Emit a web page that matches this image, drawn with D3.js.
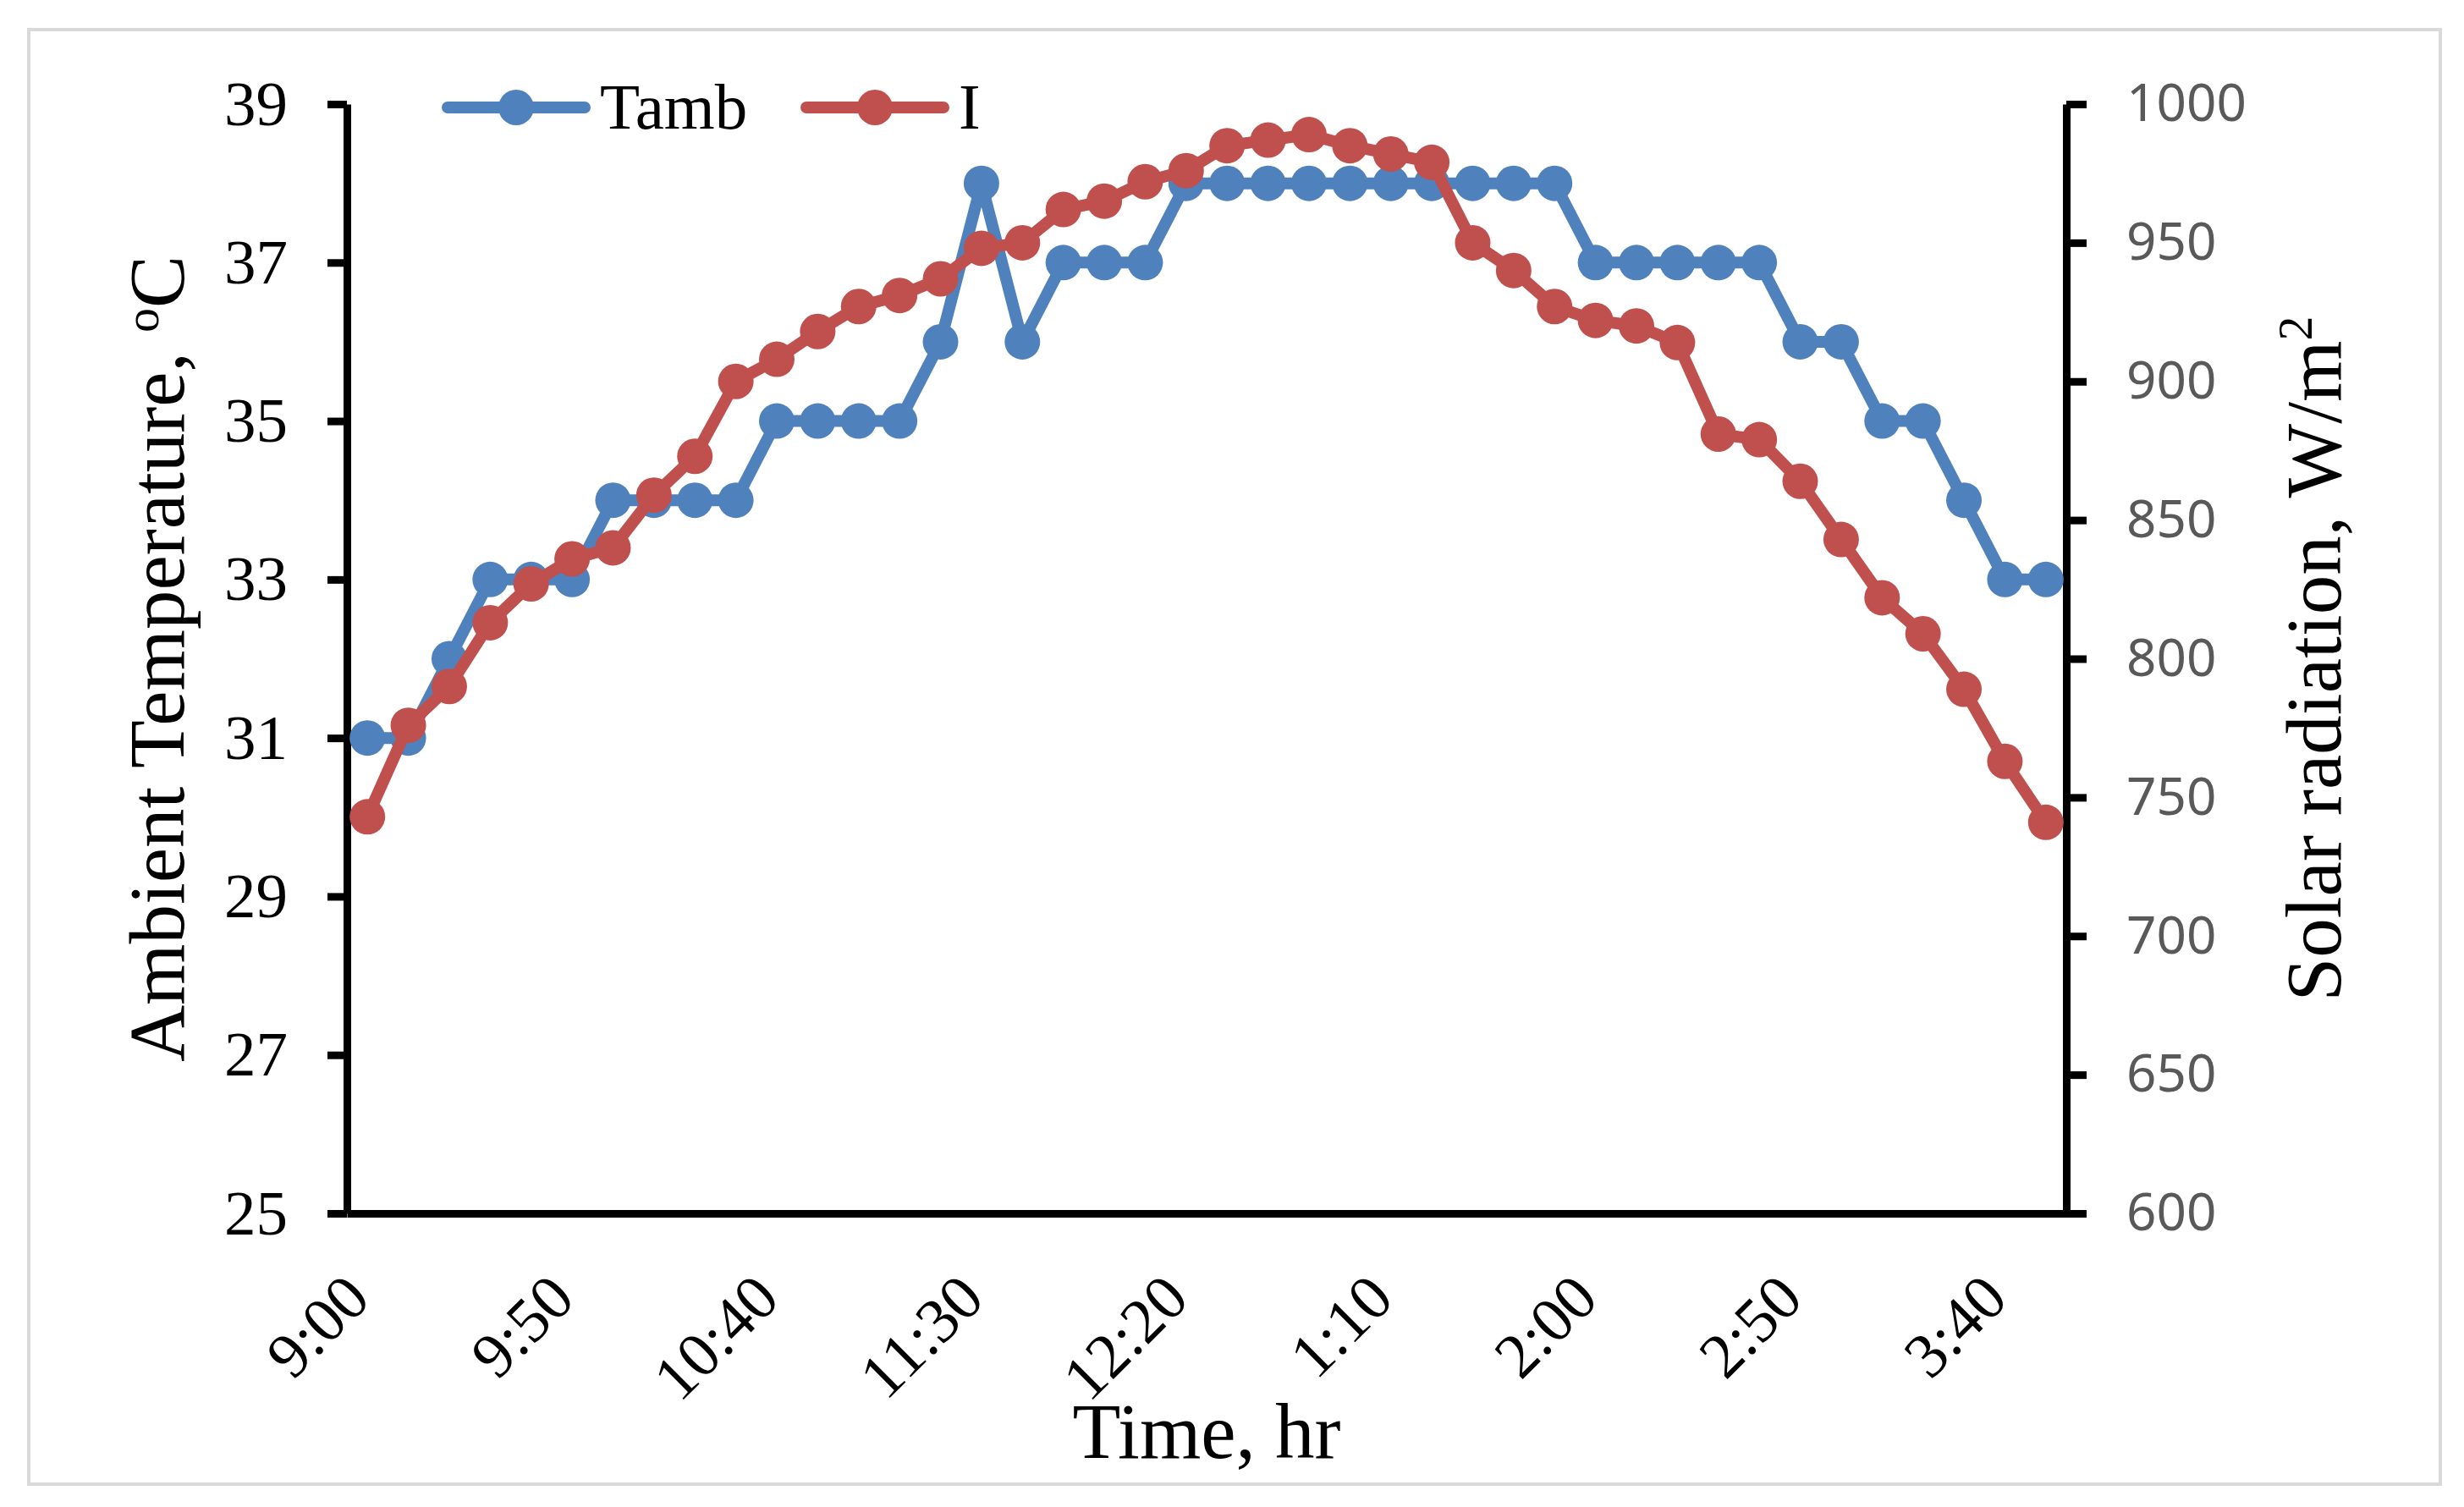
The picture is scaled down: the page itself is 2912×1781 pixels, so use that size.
<!DOCTYPE html>
<html>
<head>
<meta charset="utf-8">
<script src="https://cdn.jsdelivr.net/npm/d3@7"></script>
<style>
  body { margin: 0; background: #fff; }
  text { font-family: "Liberation Serif", "Times New Roman", serif; }
</style>
</head>
<body>
<svg id="chart"></svg>
<script>
// time of day, every 10 minutes
const times = ["9:00","9:10","9:20","9:30","9:40","9:50","10:00","10:10","10:20","10:30",
  "10:40","10:50","11:00","11:10","11:20","11:30","11:40","11:50","12:00","12:10",
  "12:20","12:30","12:40","12:50","1:00","1:10","1:20","1:30","1:40","1:50",
  "2:00","2:10","2:20","2:30","2:40","2:50","3:00","3:10","3:20","3:30","3:40","3:50"];
const timeLabels = ["9:00","9:50","10:40","11:30","12:20","1:10","2:00","2:50","3:40"];

// ambient temperature, C
const tamb = [31,31,32,33,33,33,34,34,34,34,35,35,35,35,36,38,36,37,37,37,
  38,38,38,38,38,38,38,38,38,38,37,37,37,37,37,36,36,35,35,34,33,33];
// solar radiation, W/m2
const irr = [743,776,790,813,827,836,840,859,873,900,908,918,927,931,937,948,950,962,965,972,
  976,985,987,989,985,982,979,950,940,927,922,920,914,881,879,864,843,822,809,789,763,741];

const tempTicks = [25,27,29,31,33,35,37,39];
const radTicks = [600,650,700,750,800,850,900,950,1000];
const seriesNames = ["Tamb","I"];
const seriesColors = ["#4F81BD","#C0504D"];

const width = 2912, height = 1781;
const mLeft = 410, mRight = 2442, mTop = 123, mBottom = 1434;

const svg = d3.select("#chart")
    .attr("width", width)
    .attr("height", height);

svg.append("rect")
    .attr("width", width).attr("height", height)
    .attr("fill", "#fff");

// outer frame
svg.append("rect")
    .attr("x", 34).attr("y", 35)
    .attr("width", 2850).attr("height", 1719)
    .attr("fill", "none")
    .attr("stroke", "#d9d9d9")
    .attr("stroke-width", 4);

let x = d3.scaleBand().domain(times).range([mLeft, mRight]);
let yL = d3.scaleLinear().domain([25, 39]).range([mBottom, mTop]);
let yR = d3.scaleLinear().domain([600, 1000]).range([mBottom, mTop]);
const cx = d => x(d) + x.bandwidth() / 2;

// left axis
let gL = svg.append("g")
    .attr("transform", `translate(${mLeft},0)`)
    .call(d3.axisLeft(yL).tickValues(tempTicks).tickSize(23).tickSizeOuter(0).tickPadding(47));
gL.selectAll("text").style("font-size", "75px").attr("fill", "#000")
    .style("font-family", "Liberation Serif");

// right axis
let gR = svg.append("g")
    .attr("transform", `translate(${mRight},0)`)
    .call(d3.axisRight(yR).tickValues(radTicks).tickFormat(d3.format("d"))
        .tickSize(24).tickSizeOuter(0).tickPadding(47));
gR.selectAll("text").style("font-size", "62px").attr("fill", "#595959")
    .style("font-family", "Noto Sans");

// bottom axis
let gB = svg.append("g")
    .attr("transform", `translate(0,${mBottom})`)
    .call(d3.axisBottom(x).tickValues(timeLabels).tickSize(0).tickSizeOuter(0));
gB.selectAll("text")
    .attr("x", 0).attr("y", 0).attr("dy", 0)
    .attr("transform", "translate(6,104) rotate(-45)")
    .style("text-anchor", "end")
    .style("font-size", "75px")
    .style("font-family", "Liberation Serif")
    .attr("fill", "#000");

svg.selectAll(".domain, .tick line")
    .attr("stroke", "#000")
    .attr("stroke-width", 9);

// series
const data = [tamb, irr];
const scales = [yL, yR];
data.forEach((vals, k) => {
    const pts = vals.map((v, i) => [cx(times[i]), scales[k](v)]);
    svg.append("path")
        .attr("d", d3.line()(pts))
        .attr("fill", "none")
        .attr("stroke", seriesColors[k])
        .attr("stroke-width", 14)
        .attr("stroke-linejoin", "round");
    svg.append("g").selectAll("circle")
        .data(pts)
        .enter().append("circle")
        .attr("cx", d => d[0])
        .attr("cy", d => d[1])
        .attr("r", 21)
        .attr("fill", seriesColors[k]);
});

// legend
const legendX = [529, 953];
seriesNames.forEach((name, k) => {
    const g = svg.append("g").attr("transform", `translate(${legendX[k]},127)`);
    g.append("line")
        .attr("x1", 0).attr("x2", 162)
        .attr("stroke", seriesColors[k])
        .attr("stroke-width", 14)
        .attr("stroke-linecap", "round");
    g.append("circle").attr("cx", 81).attr("r", 21).attr("fill", seriesColors[k]);
    g.append("text")
        .attr("x", 180).attr("y", 25)
        .style("font-size", "77px")
        .text(name);
});

// axis titles
svg.append("text")
    .attr("x", (mLeft + mRight) / 2).attr("y", 1723)
    .attr("text-anchor", "middle")
    .style("font-size", "93px")
    .text("Time, hr");

let tl = svg.append("text")
    .attr("transform", `translate(217,${(mTop + mBottom) / 2}) rotate(-90)`)
    .attr("text-anchor", "middle")
    .style("font-size", "93px");
tl.append("tspan").text("Ambient Temperature, ");
tl.append("tspan").attr("dy", -30).style("font-size", "58px").text("o");
tl.append("tspan").attr("dy", 30).text("C");

let tr = svg.append("text")
    .attr("transform", `translate(2766,${(mTop + mBottom) / 2}) rotate(-90)`)
    .attr("text-anchor", "middle")
    .style("font-size", "93px");
tr.append("tspan").text("Solar radiation, W/m");
tr.append("tspan").attr("dy", -34).style("font-size", "58px").text("2");
</script>
</body>
</html>
